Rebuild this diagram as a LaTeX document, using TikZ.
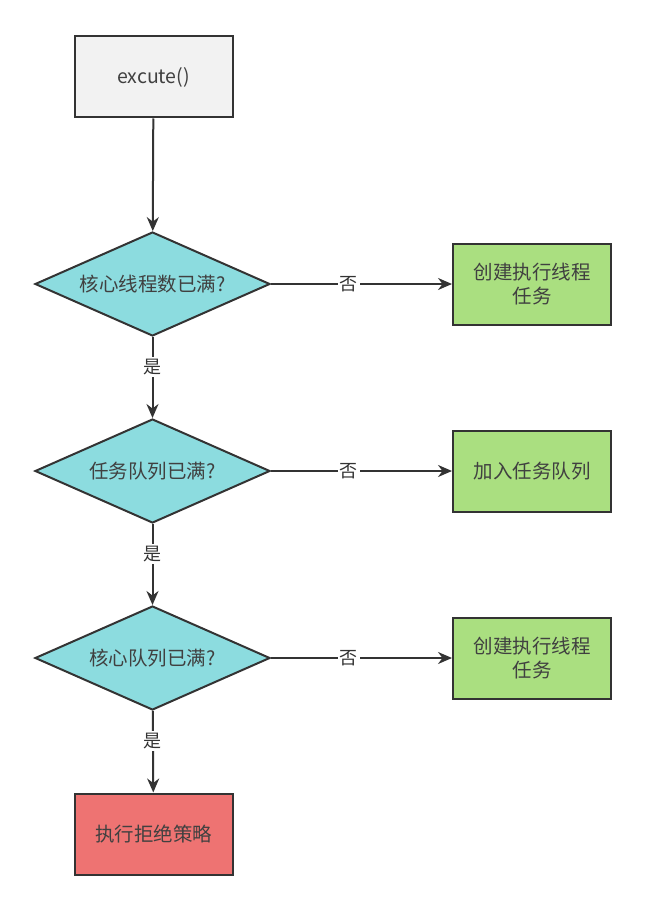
\documentclass[tikz,border=0pt]{standalone}
\usepackage{fontspec}
\setmainfont{Noto Sans CJK SC}
\usepackage{tikz}
\usetikzlibrary{shapes.geometric,arrows.meta}
\definecolor{boxgray}{HTML}{F2F2F2}
\definecolor{decide}{HTML}{8CDCDF}
\definecolor{okgreen}{HTML}{AADF80}
\definecolor{rejred}{HTML}{EE7372}
\definecolor{linegray}{HTML}{333333}
\tikzset{
	procbox/.style={draw=linegray,line width=2pt,minimum width=158pt,minimum height=81pt,inner sep=0pt,font=\fontsize{19.5}{24}\selectfont,text=black!75,align=center},
	decbox/.style={diamond,draw=linegray,line width=2pt,fill=decide,minimum width=235pt,minimum height=104pt,inner sep=0pt,label={[font=\fontsize{19.5}{24}\selectfont,text=black!75]center:#1}},
	flow/.style={draw=linegray,line width=2pt,-{Stealth[length=14pt,width=12pt]}},
	lbl/.style={fill=white,inner sep=2pt,font=\fontsize{18}{22}\selectfont,text=black!80}
}
\begin{document}
\begin{tikzpicture}[x=1pt,y=-1pt]
	\useasboundingbox (0,0) rectangle (646,912);
	\node[procbox,fill=boxgray] (exec) at (153.5,77) {excute()};
	\foreach \n/\y/\t in {1/284/核心线程数已满?,2/471/任务队列已满?,3/658/核心队列已满?}
	{
		\node[decbox=\t] (d\n) at (152.5,\y) {};
	}
	\node[procbox,fill=okgreen] (g1) at (532,284) {创建执行线程\\任务};
	\node[procbox,fill=okgreen] (g2) at (532,471) {加入任务队列};
	\node[procbox,fill=okgreen] (g3) at (532,658) {创建执行线程\\任务};
	\node[procbox,fill=rejred] (rej) at (153.5,834) {执行拒绝策略};
	
	\draw[flow] (exec) -- (d1);
	\draw[flow] (d1) -- node[lbl,pos=0.37] {是} (d2);
	\draw[flow] (d2) -- node[lbl,pos=0.37] {是} (d3);
	\draw[flow] (d3) -- node[lbl,pos=0.37] {是} (rej);
	\foreach \n in {1,2,3}
	{
		\draw[flow] (d\n) -- node[lbl,pos=0.43] {否} (g\n);
	}
\end{tikzpicture}
\end{document}
